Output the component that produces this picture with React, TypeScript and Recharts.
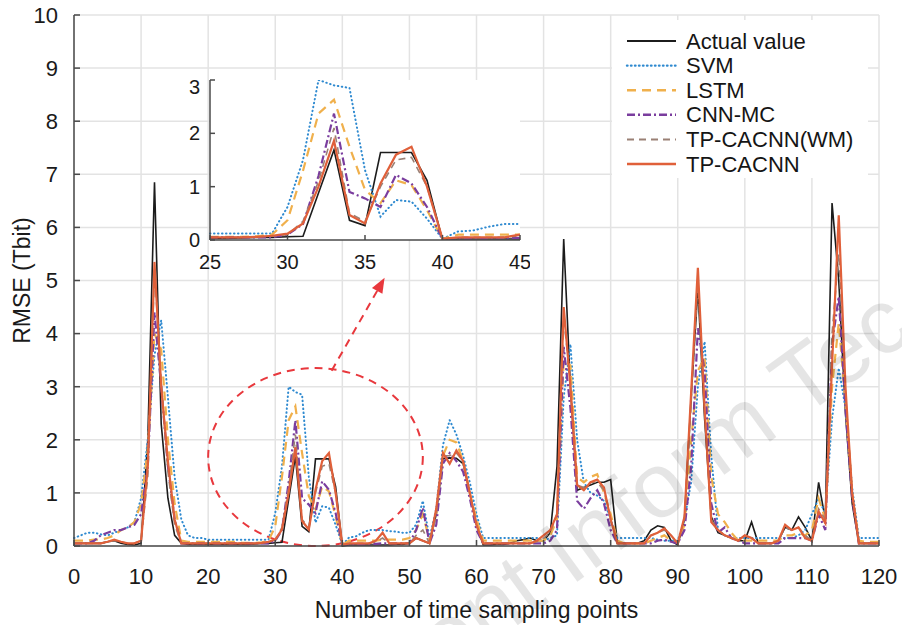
import React from 'react';
import { LineChart, Line, XAxis, YAxis, CartesianGrid, Legend, ReferenceArea, ReferenceLine } from 'recharts';

const FONT = '"Liberation Sans", Arial, Helvetica, sans-serif';

// RMSE per time sampling point (t = 0..120)
const actualValue = [
  0.05, 0.05, 0.05, 0.05, 0.05, 0.08, 0.1, 0.05, 0.03, 0.02, 0.05,
  2.0, 6.85, 2.3, 0.9, 0.2, 0.05, 0.03, 0.03, 0.03, 0.03,
  0.03, 0.03, 0.03, 0.03, 0.03, 0.03, 0.04, 0.05, 0.05, 0.06,
  0.07, 0.88, 1.69, 0.37, 0.27, 1.64, 1.64, 1.64, 1.12, 0.0,
  0.02, 0.02, 0.02, 0.02, 0.02, 0.02, 0.02, 0.03, 0.03, 0.05,
  0.15, 0.1, 0.05, 0.6, 1.65, 1.66, 1.65, 1.55, 1.0, 0.4,
  0.02, 0.02, 0.03, 0.03, 0.05, 0.1, 0.12, 0.15, 0.1, 0.1,
  0.25, 1.5, 5.78, 3.0, 1.05, 1.1, 1.15, 1.2, 1.2, 1.25,
  0.05, 0.05, 0.05, 0.05, 0.1, 0.3, 0.38, 0.35, 0.1, 0.02,
  0.5, 2.8, 4.85, 2.4, 0.55, 0.25, 0.2, 0.15, 0.1, 0.1,
  0.45, 0.05, 0.05, 0.05, 0.1, 0.35, 0.3, 0.55, 0.35, 0.1,
  1.2, 0.5, 6.46, 5.0, 2.5, 0.8, 0.05, 0.05, 0.05, 0.05,
];

const svmValue = [
  0.15, 0.2, 0.25, 0.25, 0.22, 0.2, 0.25, 0.3, 0.35, 0.45, 0.9,
  2.0, 3.6, 4.25, 2.8, 1.3, 0.5, 0.2, 0.15, 0.15, 0.12,
  0.12, 0.12, 0.12, 0.12, 0.12, 0.12, 0.12, 0.12, 0.12, 0.62,
  1.5, 3.0, 2.9, 2.85, 1.31, 0.44, 0.75, 0.72, 0.4, 0.02,
  0.16, 0.18, 0.25, 0.3, 0.3, 0.3, 0.28, 0.27, 0.25, 0.25,
  0.4, 0.85, 0.15, 0.7, 1.9, 2.37, 2.1, 1.7, 1.2, 0.6,
  0.15, 0.15, 0.15, 0.15, 0.15, 0.15, 0.15, 0.15, 0.15, 0.1,
  0.15, 0.2, 2.8, 3.8, 2.0, 1.2, 1.0, 0.95, 0.85, 0.5,
  0.15, 0.15, 0.15, 0.15, 0.15, 0.15, 0.12, 0.1, 0.1, 0.1,
  0.5, 1.2, 3.0, 3.85, 1.7, 0.3, 0.2, 0.15, 0.15, 0.15,
  0.15, 0.15, 0.15, 0.15, 0.15, 0.15, 0.15, 0.2, 0.3, 0.6,
  0.9, 0.6, 2.4, 3.35, 2.6, 1.1, 0.15, 0.15, 0.15, 0.15,
];

const lstmValue = [
  0.1, 0.1, 0.1, 0.12, 0.12, 0.15, 0.2, 0.3, 0.35, 0.45, 0.8,
  1.8, 4.0, 3.7, 2.0, 0.8, 0.1, 0.08, 0.08, 0.08, 0.08,
  0.08, 0.08, 0.08, 0.08, 0.06, 0.06, 0.06, 0.07, 0.1, 0.37,
  1.3, 2.37, 2.63, 1.75, 0.94, 0.69, 1.12, 1.03, 0.56, 0.02,
  0.1, 0.1, 0.1, 0.1, 0.1, 0.12, 0.12, 0.12, 0.12, 0.15,
  0.3, 0.6, 0.1, 0.6, 1.7, 2.0, 1.95, 1.6, 1.0, 0.5,
  0.1, 0.1, 0.1, 0.1, 0.1, 0.1, 0.1, 0.1, 0.1, 0.1,
  0.2, 0.5, 3.5, 3.4, 1.3, 1.2, 1.3, 1.35, 1.0, 0.6,
  0.1, 0.05, 0.05, 0.05, 0.05, 0.1, 0.15, 0.2, 0.1, 0.05,
  0.4, 2.0, 3.3, 3.55, 1.3, 0.6, 0.45, 0.25, 0.1, 0.1,
  0.1, 0.1, 0.1, 0.1, 0.1, 0.2, 0.2, 0.25, 0.2, 0.3,
  0.9, 0.5, 3.0, 4.2, 2.7, 1.0, 0.1, 0.08, 0.08, 0.08,
];

const cnnMcValue = [
  0.05, 0.05, 0.05, 0.1, 0.2, 0.25, 0.3, 0.3, 0.35, 0.4, 0.6,
  1.5, 4.4, 3.0, 1.5, 0.5, 0.05, 0.05, 0.05, 0.05, 0.05,
  0.05, 0.05, 0.05, 0.05, 0.05, 0.05, 0.05, 0.05, 0.05, 0.1,
  0.3, 1.2, 2.37, 0.9, 0.78, 0.62, 1.22, 1.06, 0.62, 0.02,
  0.03, 0.03, 0.03, 0.04, 0.04, 0.05, 0.05, 0.05, 0.05, 0.05,
  0.3, 0.72, 0.05, 0.4, 1.55, 1.75, 1.6, 1.4, 0.9, 0.3,
  0.05, 0.05, 0.05, 0.05, 0.05, 0.05, 0.05, 0.05, 0.05, 0.05,
  0.1, 0.3, 3.75, 2.6, 0.85, 0.7, 0.9, 1.05, 0.8, 0.3,
  0.05, 0.05, 0.05, 0.05, 0.05, 0.05, 0.1, 0.12, 0.08, 0.05,
  0.3, 1.5, 4.1, 3.3, 0.8, 0.25, 0.35, 0.15, 0.1, 0.05,
  0.05, 0.05, 0.05, 0.05, 0.05, 0.15, 0.15, 0.15, 0.15, 0.1,
  0.6, 0.3, 3.8, 4.7, 2.6, 0.9, 0.05, 0.05, 0.05, 0.05,
];

const tpWmValue = [
  0.05, 0.05, 0.05, 0.05, 0.05, 0.08, 0.1, 0.08, 0.05, 0.05, 0.1,
  1.3, 5.2, 3.1, 1.4, 0.4, 0.05, 0.05, 0.05, 0.05, 0.05,
  0.05, 0.05, 0.05, 0.05, 0.05, 0.05, 0.05, 0.06, 0.07, 0.1,
  0.35, 1.1, 2.1, 0.5, 0.35, 1.0, 1.5, 1.55, 1.0, 0.02,
  0.05, 0.05, 0.05, 0.05, 0.08, 0.15, 0.05, 0.05, 0.05, 0.05,
  0.2, 0.3, 0.05, 0.6, 1.7, 1.7, 1.75, 1.6, 1.0, 0.4,
  0.05, 0.05, 0.05, 0.05, 0.05, 0.05, 0.05, 0.05, 0.08, 0.15,
  0.25, 0.6, 4.3, 3.1, 1.15, 1.1, 1.2, 1.2, 1.05, 0.5,
  0.05, 0.05, 0.05, 0.05, 0.05, 0.2, 0.25, 0.3, 0.2, 0.05,
  0.5, 2.7, 5.0, 2.6, 0.5, 0.3, 0.2, 0.15, 0.1, 0.2,
  0.15, 0.05, 0.05, 0.05, 0.1, 0.35, 0.3, 0.35, 0.2, 0.1,
  0.7, 0.5, 4.0, 5.5, 2.9, 1.0, 0.05, 0.05, 0.05, 0.05,
];

const tpCacnnValue = [
  0.05, 0.05, 0.05, 0.05, 0.05, 0.08, 0.12, 0.08, 0.05, 0.05, 0.1,
  1.5, 5.35, 3.0, 1.6, 0.5, 0.05, 0.05, 0.05, 0.05, 0.05,
  0.05, 0.05, 0.05, 0.05, 0.05, 0.05, 0.05, 0.06, 0.08, 0.12,
  0.31, 1.0, 1.86, 0.47, 0.31, 1.06, 1.6, 1.75, 1.0, 0.02,
  0.05, 0.05, 0.05, 0.05, 0.1, 0.25, 0.05, 0.05, 0.05, 0.05,
  0.15, 0.1, 0.05, 0.7, 1.75, 1.55, 1.8, 1.6, 1.0, 0.4,
  0.05, 0.05, 0.05, 0.05, 0.05, 0.05, 0.05, 0.05, 0.1, 0.2,
  0.3, 0.6, 4.5, 3.0, 1.15, 1.05, 1.2, 1.25, 1.1, 0.5,
  0.05, 0.05, 0.05, 0.05, 0.05, 0.2, 0.25, 0.33, 0.2, 0.05,
  0.55, 2.9, 5.24, 2.6, 0.45, 0.3, 0.2, 0.15, 0.1, 0.2,
  0.15, 0.05, 0.05, 0.05, 0.1, 0.4, 0.3, 0.35, 0.15, 0.1,
  0.65, 0.43, 3.4, 6.23, 3.0, 1.0, 0.05, 0.05, 0.05, 0.05,
];

const xTicks = [0, 10, 20, 30, 40, 50, 60, 70, 80, 90, 100, 110, 120];
const yTicks = [0, 1, 2, 3, 4, 5, 6, 7, 8, 9, 10];
const insetXTicks = [25, 30, 35, 40, 45];
const insetYTicks = [0, 1, 2, 3];

const SERIES = [
  { key: 'actual', name: 'Actual value', color: '#1c1c1c', width: 1.6, dash: undefined as string | undefined, cap: 'butt' },
  { key: 'svm', name: 'SVM', color: '#2f8ad0', width: 2, dash: '0.5 3.5', cap: 'round' },
  { key: 'lstm', name: 'LSTM', color: '#f0b04c', width: 2.2, dash: '9 6', cap: 'butt' },
  { key: 'cnnmc', name: 'CNN-MC', color: '#7a3d9e', width: 2.2, dash: '8 3 2 3', cap: 'butt' },
  { key: 'wm', name: 'TP-CACNN(WM)', color: '#9a8075', width: 1.6, dash: '7 5', cap: 'butt' },
  { key: 'tp', name: 'TP-CACNN', color: '#e0603a', width: 2.2, dash: undefined as string | undefined, cap: 'butt' },
];

const AXIS = '#4a4a4a';
const RED = '#e8383d';

const rows = actualValue.map((v, i) => ({
  t: i,
  actual: v,
  svm: svmValue[i],
  lstm: lstmValue[i],
  cnnmc: cnnMcValue[i],
  wm: tpWmValue[i],
  tp: tpCacnnValue[i],
}));
const insetRows = rows.filter((r) => r.t >= 25 && r.t <= 45);

const renderLines = () =>
  SERIES.map((s) => (
    <Line
      key={s.key}
      type="linear"
      dataKey={s.key}
      name={s.name}
      stroke={s.color}
      strokeWidth={s.width}
      strokeDasharray={s.dash}
      strokeLinecap={s.cap as any}
      dot={false}
      activeDot={false}
      isAnimationActive={false}
    />
  ));

const Ellipse = (p: any) => (
  <ellipse
    cx={p.x + p.width / 2}
    cy={p.y + p.height / 2}
    rx={p.width / 2}
    ry={p.height / 2}
    fill="none"
    stroke={RED}
    strokeWidth={2}
    strokeDasharray="8 6"
  />
);

const Arrow = (p: any) => {
  const { x1, y1, x2, y2 } = p;
  const len = Math.hypot(x2 - x1, y2 - y1);
  const ux = (x2 - x1) / len;
  const uy = (y2 - y1) / len;
  const hl = 15;
  const hw = 6;
  const bx = x2 - ux * hl;
  const by = y2 - uy * hl;
  return (
    <g>
      <line x1={x1} y1={y1} x2={bx} y2={by} stroke={RED} strokeWidth={2} strokeDasharray="8 6" />
      <polygon
        points={`${x2},${y2} ${bx - uy * hw},${by + ux * hw} ${bx + uy * hw},${by - ux * hw}`}
        fill={RED}
      />
    </g>
  );
};

const LegendBox = () => (
  <svg width={256} height={158} style={{ display: 'block', background: '#fff' }}>
    {SERIES.map((s, i) => {
      const y = 21 + i * 24.6;
      return (
        <g key={s.key}>
          <line
            x1={15}
            x2={64}
            y1={y}
            y2={y}
            stroke={s.color}
            strokeWidth={s.width + 0.4}
            strokeDasharray={s.dash}
            strokeLinecap={s.cap as any}
          />
          <text x={74} y={y} dominantBaseline="central" fontSize={22} fontFamily={FONT} fill="#151515">
            {s.name}
          </text>
        </g>
      );
    })}
  </svg>
);

const YLabel = (p: any) => {
  const vb = p.viewBox || {};
  const cy = vb.y + vb.height / 2;
  return (
    <text
      x={22}
      y={cy}
      transform={`rotate(-90 22 ${cy})`}
      textAnchor="middle"
      dominantBaseline="central"
      fontSize={23}
      fontFamily={FONT}
      fill="#1a1a1a"
    >
      RMSE (Tbit)
    </text>
  );
};

export default function App() {
  const tickStyle = { fontSize: 22, fill: '#1a1a1a', fontFamily: FONT };
  return (
    <div style={{ position: 'absolute', left: 0, top: 0, width: 902, height: 625, background: '#fff', fontFamily: FONT, overflow: 'hidden' }}>
      <LineChart width={902} height={625} data={rows} margin={{ top: 15, right: 23, left: 0, bottom: 0 }}>
        <CartesianGrid stroke="#e3e3e3" strokeWidth={1.5} />
        <XAxis
          dataKey="t"
          type="number"
          domain={[0, 120]}
          ticks={xTicks}
          height={79}
          tickSize={-6}
          tickMargin={28}
          tick={tickStyle}
          stroke={AXIS}
          strokeWidth={1.5}
          label={{ value: 'Number of time sampling points', position: 'insideBottom', offset: 7, fontSize: 23, fill: '#1a1a1a', fontFamily: FONT }}
        />
        <XAxis xAxisId="top" orientation="top" type="number" domain={[0, 120]} ticks={xTicks} height={0} tick={false} tickSize={-6} stroke={AXIS} strokeWidth={1.5} />
        <YAxis
          type="number"
          domain={[0, 10]}
          ticks={yTicks}
          width={74}
          tickSize={-6}
          tickMargin={22}
          tick={tickStyle}
          stroke={AXIS}
          strokeWidth={1.5}
          label={{ content: YLabel }}
        />
        <YAxis yAxisId="right" orientation="right" type="number" domain={[0, 10]} ticks={yTicks} width={0} tick={false} tickSize={-6} stroke={AXIS} strokeWidth={1.5} />
        <ReferenceArea x1={20} x2={52} y1={0} y2={3.35} shape={Ellipse} />
        <ReferenceLine segment={[{ x: 38.4, y: 3.3 }, { x: 46.3, y: 5.05 }]} shape={Arrow} />
        {renderLines()}
        <Legend
          layout="vertical"
          align="center"
          verticalAlign="middle"
          content={LegendBox}
          wrapperStyle={{ left: 612, top: 20, width: 256, height: 158 }}
        />
      </LineChart>

      <div style={{ position: 'absolute', left: 180, top: 75 }}>
        <LineChart width={350} height={200} data={insetRows} margin={{ top: 5, right: 10, left: 0, bottom: 0 }}>
          <CartesianGrid horizontal={false} vertical={false} fill="#fff" fillOpacity={1} />
          <XAxis
            dataKey="t"
            type="number"
            domain={[25, 45]}
            ticks={insetXTicks}
            height={35}
            tickSize={-5}
            tickMargin={20}
            tick={{ fontSize: 20, fill: '#1a1a1a', fontFamily: FONT }}
            stroke={AXIS}
            strokeWidth={1.5}
          />
          <XAxis xAxisId="top" orientation="top" type="number" domain={[25, 45]} ticks={insetXTicks} height={0} tick={false} tickSize={-5} stroke={AXIS} strokeWidth={1.5} />
          <YAxis
            type="number"
            domain={[0, 3]}
            ticks={insetYTicks}
            allowDataOverflow
            width={30}
            tickSize={-5}
            tickMargin={15}
            tick={{ fontSize: 20, fill: '#1a1a1a', fontFamily: FONT }}
            stroke={AXIS}
            strokeWidth={1.5}
          />
          <YAxis yAxisId="right" orientation="right" type="number" domain={[0, 3]} ticks={insetYTicks} width={0} tick={false} tickSize={-5} stroke={AXIS} strokeWidth={1.5} />
          {renderLines()}
        </LineChart>
      </div>

      <svg width={902} height={625} style={{ position: 'absolute', left: 0, top: 0, pointerEvents: 'none' }}>
        <text
          x={376}
          y={728}
          transform="rotate(-36 376 728)"
          fontSize={92}
          fontFamily={FONT}
          fill="#000"
          fillOpacity={0.1}
        >
          Front Inform Tec
        </text>
      </svg>
    </div>
  );
}
